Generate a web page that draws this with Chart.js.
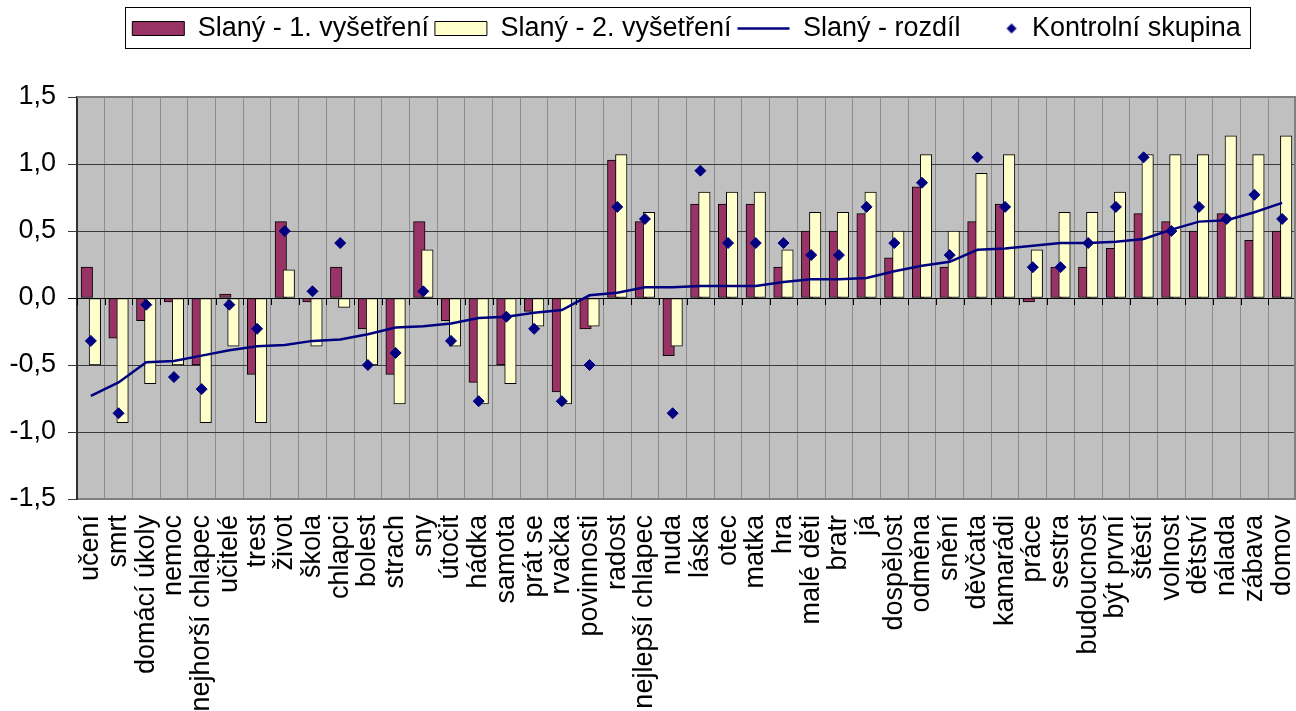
<!DOCTYPE html>
<html>
<head>
<meta charset="utf-8">
<script src="https://cdn.jsdelivr.net/npm/chart.js@4.4.0/dist/chart.umd.min.js"></script>
<style>
    html, body { margin: 0; padding: 0; background: #fff; }
    #wrap { width: 1296px; height: 711px; }
</style>
</head>
<body>
<div id="wrap"><canvas id="chart" width="1296" height="711"></canvas></div>
<script>
const categories = ['učení', 'smrt', 'domácí úkoly', 'nemoc', 'nejhorší chlapec', 'učitelé', 'trest', 'život',
    'škola', 'chlapci', 'bolest', 'strach', 'sny', 'útočit', 'hádka', 'samota', 'prát se', 'rvačka',
    'povinnosti', 'radost', 'nejlepší chlapec', 'nuda', 'láska', 'otec', 'matka', 'hra', 'malé děti',
    'bratr', 'já', 'dospělost', 'odměna', 'snění', 'děvčata', 'kamarádi', 'práce', 'sestra',
    'budoucnost', 'být první', 'štěstí', 'volnost', 'dětství', 'nálada', 'zábava', 'domov'];

const firstExam = [0.23, -0.30, -0.17, -0.03, -0.50, 0.03, -0.57, 0.57, -0.03, 0.23, -0.23, -0.57,
    0.57, -0.17, -0.63, -0.50, -0.10, -0.70, -0.23, 1.03, 0.57, -0.43, 0.70, 0.70, 0.70, 0.23, 0.50,
    0.50, 0.63, 0.30, 0.83, 0.23, 0.57, 0.70, -0.03, 0.23, 0.23, 0.37, 0.63, 0.57, 0.50, 0.63, 0.43, 0.50];

const secondExam = [-0.50, -0.93, -0.64, -0.50, -0.93, -0.36, -0.93, 0.21, -0.36, -0.07, -0.50, -0.79,
    0.36, -0.36, -0.79, -0.64, -0.21, -0.79, -0.21, 1.07, 0.64, -0.36, 0.79, 0.79, 0.79, 0.36, 0.64,
    0.64, 0.79, 0.50, 1.07, 0.50, 0.93, 1.07, 0.36, 0.64, 0.64, 0.79, 1.07, 1.07, 1.07, 1.21, 1.07, 1.21];

const difference = [-0.73, -0.63, -0.48, -0.47, -0.43, -0.39, -0.36, -0.35, -0.32, -0.31, -0.27, -0.22,
    -0.21, -0.19, -0.15, -0.14, -0.11, -0.09, 0.02, 0.04, 0.08, 0.08, 0.09, 0.09, 0.09, 0.12, 0.14,
    0.14, 0.15, 0.20, 0.24, 0.27, 0.36, 0.37, 0.39, 0.41, 0.41, 0.42, 0.44, 0.51, 0.57, 0.58, 0.64, 0.71];

const controlGroup = [-0.32, -0.86, -0.05, -0.59, -0.68, -0.05, -0.23, 0.50, 0.05, 0.41, -0.50, -0.41,
    0.05, -0.32, -0.77, -0.14, -0.23, -0.77, -0.50, 0.68, 0.59, -0.86, 0.95, 0.41, 0.41, 0.41, 0.32,
    0.32, 0.68, 0.41, 0.86, 0.32, 1.05, 0.68, 0.23, 0.23, 0.41, 0.68, 1.05, 0.50, 0.68, 0.59, 0.77, 0.59];

const yMin = -1.5;
const yMax = 1.5;
const yStep = 0.5;

const BAR_SHIFT = 0.145;   // the two bars of a category overlap a bit, as in Excel
const NAVY = '#000080';

Chart.defaults.font.family = '"Liberation Sans", Arial, sans-serif';
Chart.defaults.font.size = 27;
Chart.defaults.color = '#000';

// small diamond for the legend, sitting near the text
const diamond = document.createElement('canvas');
diamond.width = 52;
diamond.height = 12;
const dctx = diamond.getContext('2d');
dctx.fillStyle = NAVY;
dctx.beginPath();
dctx.moveTo(40, 6); dctx.lineTo(45, 1); dctx.lineTo(50, 6); dctx.lineTo(45, 11);
dctx.closePath();
dctx.fill();

const legendStyles = ['rect', 'rect', 'line', diamond];

const plotFrame = {
    id: 'plotFrame',
    beforeDraw(chart) {
        const { ctx, chartArea: a } = chart;
        ctx.save();
        ctx.fillStyle = '#c0c0c0';
        ctx.fillRect(a.left, a.top, a.right - a.left, a.bottom - a.top);
        ctx.restore();
    },
    beforeDatasetsDraw(chart) {
        const { ctx, chartArea: a, scales } = chart;
        const y0 = scales.y.getPixelForValue(0);
        const step = (a.right - a.left) / categories.length;
        ctx.save();
        // tick marks under the zero line
        ctx.strokeStyle = '#000';
        ctx.lineWidth = 1;
        ctx.beginPath();
        for (let i = 0; i <= categories.length; i++) {
            const x = Math.round(a.left + i * step) + 0.5;
            ctx.moveTo(x, y0);
            ctx.lineTo(x, y0 + 7);
        }
        ctx.stroke();
        // top and right edge of the plot
        ctx.strokeStyle = '#808080';
        ctx.lineWidth = 2;
        ctx.beginPath();
        ctx.moveTo(a.left, a.top);
        ctx.lineTo(a.right - 1, a.top);
        ctx.lineTo(a.right - 1, a.bottom);
        ctx.stroke();
        ctx.restore();
    }
};

const legendFrame = {
    id: 'legendFrame',
    afterInit(chart) {
        const legend = chart.legend;
        const fit = legend.fit;
        legend.fit = function () {
            fit.call(this);
            this.height = 88; // leaves the gap above the plot
        };
    },
    afterLayout(chart) {
        // Excel centres the legend over the plot, not over the page
        const legend = chart.legend;
        const a = chart.chartArea;
        const shift = (a.left + a.right) / 2 - (legend.left + legend.right) / 2;
        legend.left += shift;
        legend.right += shift;
    },
    afterDraw(chart) {
        const boxes = chart.legend.legendHitBoxes;
        if (!boxes || !boxes.length) return;
        const left = Math.min(...boxes.map(b => b.left)) - 7;
        const right = Math.max(...boxes.map(b => b.left + b.width)) + 10;
        const top = boxes[0].top - 8;
        const bottom = boxes[0].top + boxes[0].height + 6;
        const ctx = chart.ctx;
        ctx.save();
        ctx.strokeStyle = '#000';
        ctx.lineWidth = 1;
        ctx.strokeRect(Math.round(left) + 0.5, Math.round(top) + 0.5, Math.round(right - left), Math.round(bottom - top));
        ctx.restore();
    }
};

new Chart(document.getElementById('chart'), {
    type: 'bar',
    data: {
        labels: categories,
        datasets: [{
            type: 'bar',
            label: 'Slaný - 1. vyšetření',
            data: firstExam.map((v, i) => ({ x: i, y: v })),
            xAxisID: 'xa',
            backgroundColor: '#993366',
            borderColor: '#000',
            borderWidth: 1,
            borderSkipped: false,
            barThickness: 11.5,
            grouped: false,
            order: 4
        }, {
            type: 'bar',
            label: 'Slaný - 2. vyšetření',
            data: secondExam.map((v, i) => ({ x: i, y: v })),
            xAxisID: 'xb',
            backgroundColor: '#ffffcc',
            borderColor: '#000',
            borderWidth: 1,
            borderSkipped: false,
            barThickness: 11.5,
            grouped: false,
            order: 3
        }, {
            type: 'line',
            label: 'Slaný - rozdíl',
            data: difference,
            xAxisID: 'x',
            borderColor: NAVY,
            backgroundColor: NAVY,
            borderWidth: 2.5,
            pointRadius: 0,
            tension: 0,
            fill: false,
            order: 2
        }, {
            type: 'line',
            label: 'Kontrolní skupina',
            data: controlGroup,
            xAxisID: 'x',
            showLine: false,
            pointStyle: 'rectRot',
            pointRadius: 5.5,
            pointBackgroundColor: NAVY,
            pointBorderColor: NAVY,
            borderColor: NAVY,
            backgroundColor: NAVY,
            order: 1
        }]
    },
    options: {
        responsive: false,
        animation: false,
        events: [],
        layout: { autoPadding: false, padding: { top: 9, left: 0, right: 0, bottom: 0 } },
        plugins: {
            tooltip: { enabled: false },
            legend: {
                position: 'top',
                align: 'center',
                labels: {
                    usePointStyle: true,
                    pointStyleWidth: 52,
                    boxHeight: 14,
                    padding: 6,
                    color: '#000',
                    sort: (a, b) => a.datasetIndex - b.datasetIndex,
                    generateLabels(chart) {
                        const items = Chart.defaults.plugins.legend.labels.generateLabels(chart);
                        items.forEach(item => {
                            item.pointStyle = legendStyles[item.datasetIndex];
                        });
                        return items;
                    }
                }
            }
        },
        scales: {
            x: {
                type: 'category',
                offset: true,
                grid: { offset: true, color: '#8c8c8c', lineWidth: 1, drawTicks: false },
                border: { color: '#808080', width: 2 },
                ticks: { autoSkip: false, minRotation: 90, maxRotation: 90, padding: 16 },
                afterFit(scale) {
                    scale.height = 212;
                    scale.paddingLeft = 0;
                    scale.paddingRight = 0;
                }
            },
            xa: {
                type: 'linear',
                display: false,
                offset: false,
                min: -0.5 + BAR_SHIFT,
                max: categories.length - 0.5 + BAR_SHIFT
            },
            xb: {
                type: 'linear',
                display: false,
                offset: false,
                min: -0.5 - BAR_SHIFT,
                max: categories.length - 0.5 - BAR_SHIFT
            },
            y: {
                min: yMin,
                max: yMax,
                ticks: {
                    stepSize: yStep,
                    padding: 12,
                    callback: v => v.toFixed(1).replace('.', ',')
                },
                grid: {
                    color: ctx => (ctx.tick && ctx.tick.value === 0) ? '#000' : '#3a3a3a',
                    tickLength: 9
                },
                border: { color: '#303030', width: 2 },
                afterFit(scale) {
                    scale.width = 77;
                }
            }
        }
    },
    plugins: [plotFrame, legendFrame]
});
</script>
</body>
</html>
